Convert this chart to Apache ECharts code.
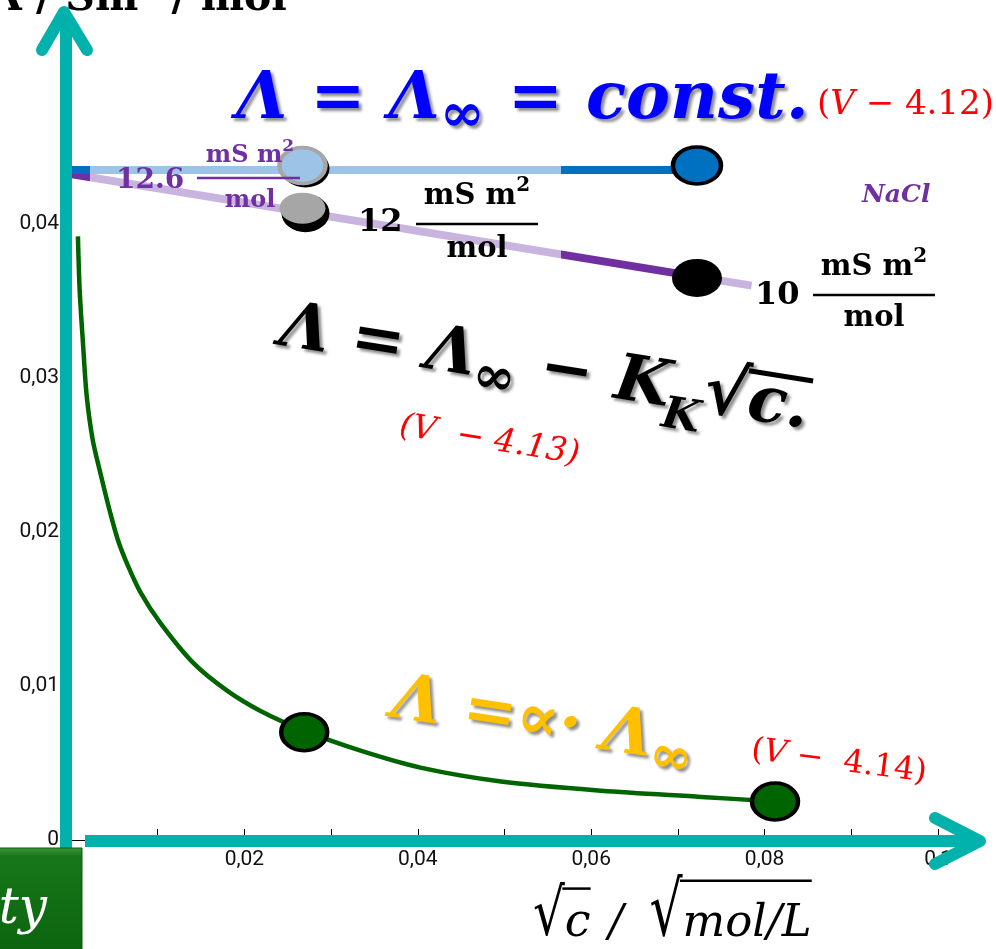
<!DOCTYPE html>
<html>
<head>
<meta charset="utf-8">
<script src="https://cdn.jsdelivr.net/npm/echarts@6/dist/echarts.min.js"></script>
<style>
  html, body { margin: 0; padding: 0; background: #ffffff; }
  #chart { width: 996px; height: 949px; }
</style>
</head>
<body>
<div id="chart"></div>
<script>
// ---------- data: x = √c (√(mol/L)), y = Λ (S·m²/mol) ----------
// ideal strong electrolyte: Λ = Λ∞ = const.
const idealLineX = [-0.0018, 0.0724];
const idealLineY = [0.0435, 0.0435];
// NaCl, Kohlrausch square-root law
const naclLineX = [-0.0018, 0.0785];
const naclLineY = [0.0434, 0.0360];
// weak electrolyte, Λ = α·Λ∞
const weakX = [0.0008, 0.0010, 0.0014, 0.0018, 0.0025, 0.0034, 0.0045, 0.0054, 0.0065, 0.0080,
               0.0103, 0.0141, 0.0180, 0.0218, 0.0269, 0.0334, 0.0403, 0.0496, 0.0612, 0.0727, 0.0812];
const weakY = [0.0392, 0.0357, 0.0321, 0.0289, 0.0260, 0.0238, 0.0213, 0.0195, 0.0179, 0.0161,
               0.0141, 0.0115, 0.0097, 0.0084, 0.0071, 0.0058, 0.0047, 0.0038, 0.0032, 0.0028, 0.0025];
// highlighted concentrations
const markX = [0.0267, 0.0722];
const idealMarkY = [0.0438, 0.0438];
const naclMarkY = [0.0409, 0.0365];
const weakMarkX = [0.0269, 0.0812];
const weakMarkY = [0.0070, 0.0025];
// axis ticks
const xTicks = [0.02, 0.04, 0.06, 0.08, 0.1];
const xTickLabels = ['0,02', '0,04', '0,06', '0,08', '0,1'];
const yTicks = [0, 0.01, 0.02, 0.03, 0.04];
const yTickLabels = ['0', '0,01', '0,02', '0,03', '0,04'];

const pairs = (xs, ys) => xs.map((x, i) => [x, ys[i]]);
const tickText = (ticks, labels) => v => {
  const i = ticks.findIndex(t => Math.abs(t - v) < 1e-9);
  return i < 0 ? '' : labels[i];
};

// ---------- text layout helpers ----------
const mctx = document.createElement('canvas').getContext('2d');
function measure(str, font) { mctx.font = font; return mctx.measureText(str).width; }
function fontOf(style, weight, size, family) { return `${style} ${weight} ${size}px "${family}"`; }

const TEAL = '#00B1AC';
const SERIF = 'DejaVu Serif';
const TOP_Z = 100;

// a run of text pieces on one baseline; group origin = baseline start
function formula(o) {
  const kids = [];
  const pos = [];
  let cx = 0;
  o.pieces.forEach(p => {
    const size = p.size || o.size;
    const sy = p.sy || 1;
    const font = fontOf(p.style || o.style || 'normal', p.weight || o.weight || 'normal', size, p.family || o.family || SERIF);
    const w = measure(p.t, font);
    const x0 = cx + (p.dx || 0);
    pos.push({ x0: x0, w: w, size: size, sy: sy });
    const st = {
      text: p.t, font: font, fill: p.color || o.color,
      align: 'left', textAlign: 'left', verticalAlign: 'middle', textVerticalAlign: 'middle'
    };
    if (o.shadow) {
      st.textShadowColor = 'rgba(0,0,0,0.45)'; st.textShadowBlur = 3;
      st.textShadowOffsetX = 3; st.textShadowOffsetY = 3;
    }
    const el = { type: 'text', z: TOP_Z, x: x0, y: (p.dy || 0) - 0.3 * size, style: st };
    if (sy !== 1) { el.scaleY = sy; el.originX = 0; el.originY = 0.3 * size; }
    kids.push(el);
    cx = x0 + w;
  });
  (o.overlines || []).forEach(l => {
    const a = pos[l.from], b = pos[l.to];
    const x1 = a.x0 + a.w * (l.startFrac == null ? 0.92 : l.startFrac);
    const x2 = b.x0 + b.w + (l.extra || 0);
    const y = (l.dy || 0) - l.rise * a.size * a.sy;
    kids.push({ type: 'line', z: TOP_Z, shape: { x1: x1, y1: y, x2: x2, y2: y },
      style: { stroke: o.color, lineWidth: l.width || 3 } });
  });
  return { type: 'group', x: o.x, y: o.y, rotation: o.rotation || 0, z: TOP_Z, children: kids };
}

function runWidth(pieces, base) {
  return pieces.reduce((s, p) => s + (p.dx || 0) +
    measure(p.t, fontOf(p.style || base.style || 'normal', p.weight || base.weight || 'normal', p.size || base.size, SERIF)), 0);
}

// "value  mS m² / mol" label
function fraction(o) {
  const base = { weight: 'bold', size: o.size };
  const num = [{ t: 'mS m' }, { t: '2', size: Math.round(o.size * 0.7), dy: -Math.round(o.size * 0.45) }];
  const den = [{ t: 'mol' }];
  const wn = runWidth(num, base), wd = runWidth(den, base);
  return [
    formula({ x: o.numX, y: o.valueBase, weight: 'bold', size: o.valueSize, color: o.color, pieces: [{ t: o.value }] }),
    formula({ x: o.cx - wn / 2, y: o.topBase, weight: 'bold', size: o.size, color: o.color, pieces: num }),
    { type: 'line', z: TOP_Z, shape: { x1: o.x1, y1: o.barY, x2: o.x2, y2: o.barY },
      style: { stroke: o.color, lineWidth: 2.5 } },
    formula({ x: o.cx - wd / 2, y: o.botBase, weight: 'bold', size: o.size, color: o.color, pieces: den })
  ];
}

const graphics = [
  // axis title of Λ (mostly above the page top)
  formula({ x: -10, y: 12, weight: 'bold', size: 41, color: '#000',
    pieces: [{ t: 'Λ / Sm' }, { t: '2', size: 27, dy: -20 }, { t: ' / mol' }] }),

  // Λ = Λ∞ = const.
  formula({ x: 236, y: 121, style: 'italic', weight: 'bold', size: 66, color: '#0000FF', shadow: true,
    pieces: [{ t: 'Λ = Λ' }, { t: '∞', size: 54, dy: 12 }, { t: ' = const.' }] }),
  formula({ x: 817, y: 115, size: 34, color: '#FF0000',
    pieces: [{ t: '(' }, { t: 'V', style: 'italic' }, { t: ' − 4.12)' }] }),

  // Λ = Λ∞ − K_K √c.
  formula({ x: 277, y: 347, rotation: -0.157, style: 'italic', weight: 'bold', size: 64, color: '#000', shadow: true,
    pieces: [{ t: 'Λ = Λ' }, { t: '∞', size: 52, dy: 14 }, { t: ' − K' }, { t: 'K', size: 44, dy: 20, dx: -4 },
             { t: '√', style: 'normal', size: 68 }, { t: 'c.' }],
    overlines: [{ from: 4, to: 5, rise: 0.74, width: 5 }] }),
  formula({ x: 398, y: 436, rotation: -0.16, style: 'italic', size: 33, color: '#FF0000',
    pieces: [{ t: '(V  − 4.13)' }] }),

  // Λ = α·Λ∞
  formula({ x: 389, y: 719, rotation: -0.152, style: 'italic', weight: 'bold', size: 64, color: '#FFC000', shadow: true,
    pieces: [{ t: 'Λ =∝· Λ' }, { t: '∞', size: 52, dy: 13 }] }),
  formula({ x: 750, y: 760, rotation: -0.13, size: 32, color: '#FF0000',
    pieces: [{ t: '(' }, { t: 'V', style: 'italic' }, { t: ' −  4.14)' }] }),

  // value labels
  ...fraction({ value: '12.6', valueSize: 28, valueBase: 189, numX: 116, color: '#7030A0', size: 24,
    cx: 250, topBase: 163, botBase: 208, barY: 178, x1: 197, x2: 300 }),
  ...fraction({ value: '12', valueSize: 32, valueBase: 232, numX: 358, color: '#000', size: 29,
    cx: 477, topBase: 205, botBase: 258, barY: 224, x1: 416, x2: 538 }),
  ...fraction({ value: '10', valueSize: 32, valueBase: 305, numX: 755, color: '#000', size: 29,
    cx: 874, topBase: 276, botBase: 327, barY: 295, x1: 813, x2: 935 }),
  formula({ x: 862, y: 203, style: 'italic', weight: 'bold', size: 25, color: '#7030A0', pieces: [{ t: 'NaCl' }] }),

  // x axis title √c / √(mol/L)
  formula({ x: 533, y: 938, size: 46, color: '#000',
    pieces: [{ t: '√', size: 50, sy: 1.3 }, { t: 'c', style: 'italic' }, { t: ' / ', style: 'italic', size: 44, dx: 4 },
             { t: '√', size: 52, sy: 1.45, dx: 12 }, { t: 'mol/L', style: 'italic', size: 45 }],
    overlines: [{ from: 0, to: 1, rise: 0.76, width: 2.5 }, { from: 3, to: 4, rise: 0.76, width: 2.5 }] }),

  // teal axes with arrow heads
  { type: 'line', z: 110, shape: { x1: 66, y1: 880, x2: 66, y2: 16 }, style: { stroke: TEAL, lineWidth: 12 } },
  { type: 'polyline', z: 110, shape: { points: [[42, 50], [64, 12], [87, 50]] },
    style: { stroke: TEAL, lineWidth: 12, lineCap: 'round', lineJoin: 'round', fill: null } },
  { type: 'line', z: 110, shape: { x1: 85, y1: 841, x2: 978, y2: 841 }, style: { stroke: TEAL, lineWidth: 12 } },
  { type: 'polyline', z: 110, shape: { points: [[935, 818], [980, 841], [935, 864]] },
    style: { stroke: TEAL, lineWidth: 12, lineCap: 'round', lineJoin: 'round', fill: null } },

  // green button in the corner
  { type: 'rect', z: 120, shape: { x: -6, y: 848, width: 88, height: 110 },
    style: { fill: { type: 'linear', x: 0, y: 0, x2: 0, y2: 1,
      colorStops: [{ offset: 0, color: '#3C9A3C' }, { offset: 0.08, color: '#17761A' }, { offset: 1, color: '#0B640D' }] },
      stroke: '#0A5A0C', lineWidth: 1 } },
  { type: 'text', x: 47, y: 925 - 0.3 * 50, z: 121,
    style: { text: 'ty', font: fontOf('italic', 'normal', 50, SERIF), fill: '#ffffff',
      align: 'right', textAlign: 'right', verticalAlign: 'middle', textVerticalAlign: 'middle' } }
];

const col = { blue: '#0070C0', lightBlue: '#9DC3E6', purple: '#7030A0', lightPurple: '#C8B4DE' };

const option = {
  animation: false,
  backgroundColor: '#ffffff',
  grid: { left: 71, right: 58, top: 70, bottom: 109, containLabel: false },
  xAxis: {
    type: 'value', min: 0, max: 0.1, interval: 0.01,
    axisLine: { show: true, lineStyle: { color: '#000', width: 1 } },
    axisTick: { show: true, inside: true, length: 11, lineStyle: { color: '#000', width: 1 } },
    axisLabel: { margin: 9, color: '#111', fontFamily: 'Roboto', fontSize: 21, formatter: tickText(xTicks, xTickLabels) },
    splitLine: { show: false }
  },
  yAxis: {
    type: 'value', min: 0, max: 0.05, interval: 0.01,
    axisLine: { show: true, lineStyle: { color: '#000', width: 1 } },
    axisTick: { show: false },
    axisLabel: { margin: 12, color: '#111', fontFamily: 'Roboto', fontSize: 21, padding: [6, 0, 0, 0],
      formatter: tickText(yTicks, yTickLabels) },
    splitLine: { show: false }
  },
  visualMap: [
    { type: 'piecewise', show: false, dimension: 0, seriesIndex: 0,
      pieces: [{ lt: 0.0022, color: col.blue }, { gte: 0.0022, lt: 0.0565, color: col.lightBlue },
               { gte: 0.0565, color: col.blue }] },
    { type: 'piecewise', show: false, dimension: 0, seriesIndex: 1,
      pieces: [{ lt: 0.0022, color: col.purple }, { gte: 0.0022, lt: 0.0565, color: col.lightPurple },
               { gte: 0.0565, lt: 0.0705, color: col.purple }, { gte: 0.0705, color: col.lightPurple }] }
  ],
  series: [
    { type: 'line', data: pairs(idealLineX, idealLineY), symbol: 'none', clip: false, z: 3,
      lineStyle: { width: 8 } },
    { type: 'line', data: pairs(naclLineX, naclLineY), symbol: 'none', clip: false, z: 2,
      lineStyle: { width: 8 } },
    { type: 'line', data: pairs(weakX, weakY), symbol: 'none', smooth: 0.3, z: 2,
      lineStyle: { width: 4.5, color: '#006400' } },
    // dark rims behind the left-hand markers
    { type: 'scatter', data: [[markX[0], idealMarkY[0]], [markX[0], naclMarkY[0]]], symbolSize: [48, 38],
      symbolOffset: [3, 3], z: 4, itemStyle: { color: '#000', opacity: 1 } },
    { type: 'scatter', data: [[markX[0], idealMarkY[0]]], symbolSize: [46, 36], z: 5,
      itemStyle: { color: col.lightBlue, borderColor: '#A6A6A6', borderWidth: 4, opacity: 1 } },
    { type: 'scatter', data: [[markX[0], naclMarkY[0]]], symbolSize: [46, 31], symbolOffset: [0, -2], z: 5,
      itemStyle: { color: '#A6A6A6', opacity: 1 } },
    { type: 'scatter', data: [[markX[1], idealMarkY[1]]], symbolSize: [48, 37], z: 5,
      itemStyle: { color: col.blue, borderColor: '#000', borderWidth: 4, opacity: 1 } },
    { type: 'scatter', data: [[markX[1], naclMarkY[1]]], symbolSize: [50, 38], z: 5,
      itemStyle: { color: '#000', opacity: 1 } },
    { type: 'scatter', data: pairs(weakMarkX, weakMarkY), symbolSize: [46, 37], z: 5,
      itemStyle: { color: '#006400', borderColor: '#000', borderWidth: 4, opacity: 1 } }
  ],
  graphic: graphics
};

const chart = echarts.init(document.getElementById('chart'), null, { renderer: 'canvas' });
chart.setOption(option);
</script>
</body>
</html>
